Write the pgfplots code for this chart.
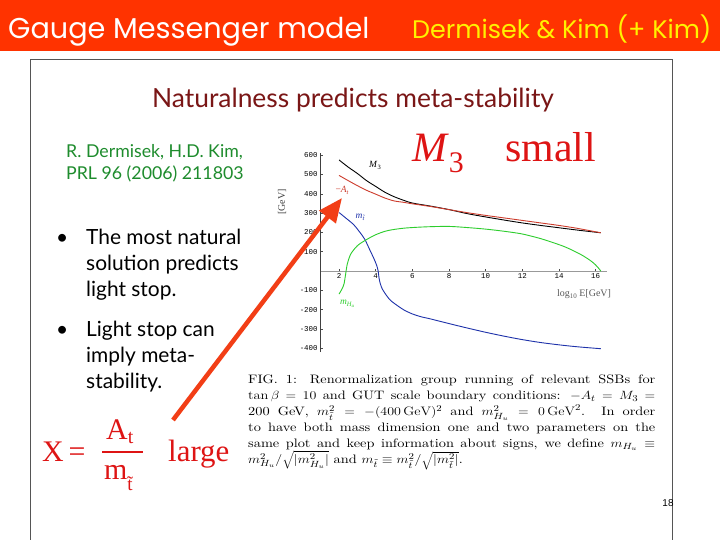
\documentclass[border=0pt]{standalone}
\usepackage{pgfplots}
\pgfplotsset{compat=1.18}
\usepackage{fontspec}
\usetikzlibrary{arrows.meta}
\newfontfamily\gill{Lato}
\newfontfamily\tnr{Liberation Serif}
\newfontfamily\mono{Liberation Mono}
\newfontfamily\arial{Liberation Sans}
\newfontfamily\bannerfont{Poppins}
\newfontfamily\capfont{lmroman10-regular.otf}
\definecolor{bannerc}{RGB}{255,51,0}
\definecolor{titlered}{RGB}{122,22,22}
\definecolor{pgreen}{RGB}{30,140,45}
\definecolor{slred}{RGB}{222,20,20}
\definecolor{arrowc}{RGB}{242,62,22}
\definecolor{cred}{RGB}{205,60,45}
\definecolor{cblue}{RGB}{30,50,170}
\definecolor{cgreen}{RGB}{45,205,45}
\definecolor{framec}{RGB}{85,85,85}
\begin{document}
\begin{tikzpicture}[x=1bp,y=1bp]
\path[use as bounding box] (0,0) rectangle (720,540);
\fill[white] (0,0) rectangle (720,540);
% banner
\fill[bannerc] (0,489) rectangle (720,540);
\node[anchor=base west, inner sep=0, text=white, font=\bannerfont\fontsize{28.8}{28.8}\selectfont] at (8,501) {Gauge Messenger model};
\node[anchor=base west, inner sep=0, text=yellow, font=\bannerfont\fontsize{25.5}{25.5}\selectfont] at (412,501) {Dermisek \& Kim (+ Kim)};
% slide frame
\draw[framec, line width=1bp] (30,0) -- (30,480) -- (672,480) -- (672,0);
% title
\node[anchor=base, inner sep=0, text=titlered, font=\gill\fontsize{26.5}{26.5}\selectfont] at (353,432) {Naturalness predicts meta-stability};
% reference
\node[anchor=base west, inner sep=0, text=pgreen, font=\gill\fontsize{17.8}{17.8}\selectfont] at (66,382) {R. Dermisek, H.D. Kim,};
\node[anchor=base west, inner sep=0, text=pgreen, font=\gill\fontsize{17.8}{17.8}\selectfont] at (66,360) {PRL 96 (2006) 211803};
% bullets
\begin{scope}[every node/.style={anchor=base west, inner sep=0, font=\gill\fontsize{21}{21}\selectfont}]
\node at (56,295) {•};
\node at (86,295) {The most natural};
\node at (86,269) {solution predicts};
\node at (86,243) {light stop.};
\node at (56,203) {•};
\node at (86,203) {Light stop can};
\node at (86,177) {imply meta-};
\node at (86,151) {stability.};
\end{scope}
% M3 small
\node[anchor=base west, inner sep=0, text=slred, font=\tnr\fontsize{42}{42}\selectfont] at (412,378) {\itshape M\/\raisebox{-11bp}{\upshape\fontsize{30}{30}\selectfont 3}};
\node[anchor=base west, inner sep=0, text=slred, font=\tnr\fontsize{42}{42}\selectfont] at (505,378) {small};
% X = At/m large
\node[anchor=base west, inner sep=0, text=slred, font=\tnr\fontsize{30}{30}\selectfont] at (42,78) {X\,=};
\draw[slred, line width=1.3bp] (102,88) -- (143,88);
\node[anchor=base west, inner sep=0, text=slred, font=\tnr\fontsize{30}{30}\selectfont] at (106,100) {A\raisebox{-4bp}{\fontsize{20}{20}\selectfont t}};
\node[anchor=base west, inner sep=0, text=slred, font=\tnr\fontsize{30}{30}\selectfont] at (104,60) {m\raisebox{-11bp}{\fontsize{19}{19}\selectfont \~{t}}};
\node[anchor=base west, inner sep=0, text=slred, font=\tnr\fontsize{31}{31}\selectfont] at (168,78) {large};
% caption
\node[anchor=north west, inner sep=0] at (248,165) {\scalebox{1.17}[1]{\parbox{348bp}{\capfont\fontsize{12.3}{16}\selectfont FIG.~1: Renormalization group running of relevant SSBs for\linebreak
$\tan\beta = 10$ and GUT scale boundary conditions: $-A_t = M_3 =$\linebreak
200~GeV, $m_{\tilde t}^2 = -(400\,\mathrm{GeV})^2$ and $m_{H_u}^2 = 0\,\mathrm{GeV}^2$. In order\linebreak
to have both mass dimension one and two parameters on the\linebreak
same plot and keep information about signs, we define $m_{H_u} \equiv$\linebreak
$m_{H_u}^2/\sqrt{|m_{H_u}^2|}$ and $m_{\tilde t} \equiv m_{\tilde t}^2/\sqrt{|m_{\tilde t}^2|}$.}}};
% page number
\node[inner sep=0, font=\arial\fontsize{10}{10}\selectfont] at (668,37) {18};
% plot
\begin{scope}[x=1cm,y=1cm]
\begin{axis}[
  at={(320.7bp,187.8bp)}, anchor=south west,
  scale only axis, width=286bp, height=199bp,
  xmin=1, xmax=16.6, ymin=-420, ymax=610,
  axis x line=middle, axis y line=left,
  axis line style={-},
  every inner x axis line/.append style={-},
  every outer y axis line/.append style={-},
  x axis line style={draw=black!40, line width=0.9bp},
  y axis line style={draw=black!75, line width=0.7bp},
  xtick={2,4,...,16},
  ytick={-400,-300,-200,-100,100,200,300,400,500,600},
  tick align=inside, major tick length=2.5bp,
  tick style={black!70, line width=0.5bp},
  /pgf/number format/assume math mode=true,
  tick label style={font=\mono\fontsize{7.5}{8}\selectfont},
  xticklabel style={yshift=1bp},
  yticklabel style={xshift=0.5bp},
  clip=false,
]
\addplot[black, line width=0.9bp, smooth] coordinates {
(2,575) (2.5,538) (3,505) (3.5,468) (4,438) (4.5,408) (5,385) (5.5,367) (6,352) (7,336) (8,318) (9,297) (10,280) (11,264) (12,249) (13,236) (14,224) (15,212) (16.28,198)};
\addplot[cred, line width=0.9bp, smooth] coordinates {
(2,495) (2.5,468) (3,442) (3.5,418) (4,398) (4.5,378) (5,363) (5.5,356) (6,348) (7,334) (8,318) (9,302) (10,288) (11,275) (12,262) (13,249) (14,236) (15,221) (16.28,198)};
\addplot[cblue, line width=0.9bp, smooth] coordinates {
(2,303) (2.4,272) (2.8,240) (3.1,205) (3.4,165) (3.7,105) (3.9,65) (4.05,30) (4.13,2) (4.18,-35) (4.25,-65) (4.36,-93) (4.6,-128) (4.82,-153) (5.2,-180) (5.55,-202) (6,-222) (6.45,-236) (7,-248) (8,-272) (9,-295) (10,-317) (11,-337) (12,-355) (13,-370) (14,-382) (15,-392) (16.28,-402)};
\addplot[cgreen, line width=0.9bp, smooth] coordinates {
(2,-119) (2.15,-95) (2.27,-67) (2.36,-16) (2.45,36) (2.64,88) (3,131) (3.45,160) (4,188) (4.64,209) (5.55,222) (6.8,229) (8,231) (9,225) (10,217) (11,206) (11.93,193) (12.6,178) (13.2,162) (14.3,126) (15.2,85) (15.8,48) (16.1,21) (16.28,0)};
\end{axis}
\end{scope}
% axis annotations
\node[rotate=90, inner sep=0, text=black!75, font=\tnr\fontsize{10}{10}\selectfont] at (282,338) {[GeV]};
\node[anchor=west, inner sep=0, text=black!65, font=\tnr\fontsize{10}{10}\selectfont] at (557,246) {log\raisebox{-2.5bp}{\fontsize{7}{7}\selectfont 10} E[GeV]};
\node[inner sep=0, font=\tnr\itshape\fontsize{9.5}{9.5}\selectfont] at (375,375) {M\/\raisebox{-2bp}{\upshape\fontsize{6.5}{6.5}\selectfont 3}};
\node[inner sep=0, text=cred, font=\tnr\fontsize{9.5}{9.5}\selectfont] at (342,350) {\textminus\textit{A}\raisebox{-2bp}{\fontsize{6.5}{6.5}\selectfont\itshape t}};
\node[inner sep=0, text=cblue, font=\tnr\itshape\fontsize{9.5}{9.5}\selectfont] at (360,323) {m\raisebox{-2bp}{\fontsize{6.5}{6.5}\selectfont \~{t}}};
\node[inner sep=0, text=cgreen, font=\tnr\itshape\fontsize{9.5}{9.5}\selectfont] at (347,236) {m\raisebox{-2bp}{\fontsize{6.5}{6.5}\selectfont H\raisebox{-1bp}{\fontsize{5}{5}\selectfont u}}};
% arrow
\draw[arrowc, line width=4.5bp, -{Triangle[length=24bp,width=20bp]}] (173,120) -- (342,342);
\end{tikzpicture}
\end{document}
